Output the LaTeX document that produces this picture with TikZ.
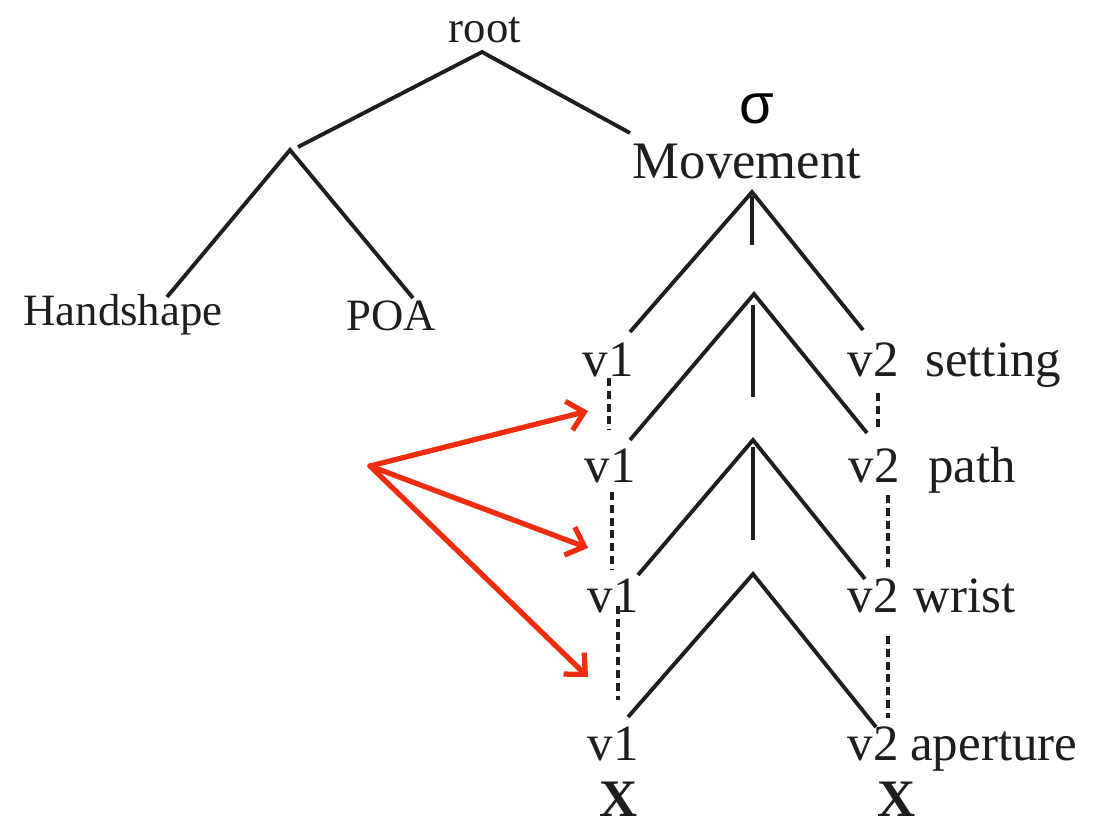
\documentclass[tikz,border=0pt]{standalone}
\usepackage{fontspec}
\setmainfont{Liberation Serif}
\newfontfamily\sigmafont{Liberation Sans}
\usetikzlibrary{arrows.meta}
\usetikzlibrary{calc}
\definecolor{arrowred}{RGB}{240,45,15}
\definecolor{inkgray}{RGB}{30,30,30}

\begin{document}
\begin{tikzpicture}[x=0.02cm,y=-0.02cm,
  branch/.style={line width=2.2pt,draw=inkgray},
  assoc/.style={line width=2.2pt,draw=inkgray,dash pattern=on 4.5pt off 2.8pt},
  pointer/.style={line width=3pt,draw=arrowred,line cap=round,line join=round,
    -{Straight Barb[length=9pt,width=17pt,line width=3pt]}},
  leftlab/.style={inner sep=0pt,anchor=base,text=inkgray,font=\fontsize{25.5}{26}\selectfont},
  vlab/.style={inner sep=0pt,anchor=base,text=inkgray,font=\fontsize{29}{30}\selectfont},
  tierlab/.style={vlab,anchor=base west}]
\useasboundingbox (0,0) rectangle (1097,825);

% left half of the tree
\node[leftlab] (Root) at (485,42) {root};
\node[leftlab] (Handshape) at (123,325) {Handshape};
\node[leftlab] (POA) at (391,330) {POA};

\coordinate (RootApex)  at (482,52);
\coordinate (RootLeft)  at (298,147);
\coordinate (RootRight) at (630,133);
\coordinate (HPApex)    at (290,150);
\coordinate (HPLeft)    at (167,297);
\coordinate (HPRight)   at (413,298);

\draw[branch] (RootLeft) -- (RootApex) -- (RootRight);
\draw[branch] (HPLeft) -- (HPApex) -- (HPRight);

% movement node with sigma
\node[inner sep=0pt,text=black,font=\sigmafont\fontsize{32}{32}\selectfont] (Sigma) at (757,109) {σ};
\node[vlab,font=\fontsize{30}{31}\selectfont] (Movement) at (747,178) {Movement};

% the four tiers
\node[vlab] (VoneSet)  at (608,376) {v1};
\node[vlab] (VtwoSet)  at (873,376) {v2};
\node[tierlab] (Setting) at (925,376) {setting};

\node[vlab] (VonePath) at (610,482) {v1};
\node[vlab] (VtwoPath) at (874,482) {v2};
\node[tierlab] (Path) at (928,482) {path};

\node[vlab] (VoneWrist) at (613,612) {v1};
\node[vlab] (VtwoWrist) at (873,612) {v2};
\node[tierlab] (Wrist) at (913,612) {wrist};

\node[vlab] (VoneAp) at (613,760) {v1};
\node[vlab] (VtwoAp) at (873,760) {v2};
\node[tierlab] (Aperture) at (910,760) {aperture};

\node[vlab,font=\bfseries\fontsize{30}{30}\selectfont] (XOne) at (619,816) {X};
\node[vlab,font=\bfseries\fontsize{30}{30}\selectfont] (XTwo) at (897,816) {X};

% branching under Movement
\coordinate (MoveApex)  at (752,192);
\coordinate (MoveLeft)  at (630,332);
\coordinate (MoveRight) at (863,330);
\coordinate (MoveMidA)  at (752,196);
\coordinate (MoveMidB)  at (752,245);

\coordinate (SetApex)   at (754,294);
\coordinate (SetLeft)   at (630,440);
\coordinate (SetRight)  at (867,433);
\coordinate (SetMidA)   at (753,305);
\coordinate (SetMidB)   at (753,397);

\coordinate (PathApex)  at (753,440);
\coordinate (PathLeft)  at (638,575);
\coordinate (PathRight) at (865,579);
\coordinate (PathMidA)  at (753,447);
\coordinate (PathMidB)  at (753,540);

\coordinate (WristApex)  at (753,574);
\coordinate (WristLeft)  at (628,717);
\coordinate (WristRight) at (876,727);

\draw[branch] (MoveLeft) -- (MoveApex) -- (MoveRight);
\draw[branch] (MoveMidA) -- (MoveMidB);
\draw[branch] (SetLeft) -- (SetApex) -- (SetRight);
\draw[branch] (SetMidA) -- (SetMidB);
\draw[branch] (PathLeft) -- (PathApex) -- (PathRight);
\draw[branch] (PathMidA) -- (PathMidB);
\draw[branch] (WristLeft) -- (WristApex) -- (WristRight);

% dashed association lines
\coordinate (DashOneA) at (609,378);  \coordinate (DashOneB) at (609,430);
\coordinate (DashTwoA) at (878,393);  \coordinate (DashTwoB) at (878,430);
\coordinate (DashThreeA) at (612,492); \coordinate (DashThreeB) at (612,570);
\coordinate (DashFourA) at (888,495); \coordinate (DashFourB) at (888,567);
\coordinate (DashFiveA) at (618,606); \coordinate (DashFiveB) at (618,700);
\coordinate (DashSixA) at (888,636);  \coordinate (DashSixB) at (888,718);

\draw[assoc] (DashOneA) -- (DashOneB);
\draw[assoc] (DashTwoA) -- (DashTwoB);
\draw[assoc] (DashThreeA) -- (DashThreeB);
\draw[assoc] (DashFourA) -- (DashFourB);
\draw[assoc] (DashFiveA) -- (DashFiveB);
\draw[assoc] (DashSixA) -- (DashSixB);

% red pointers
\coordinate (ArrowStart) at (370,466);
\coordinate (ArrowSet)   at (588,411);
\coordinate (ArrowPath)  at (588,548);
\coordinate (ArrowWrist) at (588,677);

\foreach \target in {ArrowSet,ArrowPath,ArrowWrist}{
  \draw[pointer] (ArrowStart) -- (\target);
}
\end{tikzpicture}
\end{document}
